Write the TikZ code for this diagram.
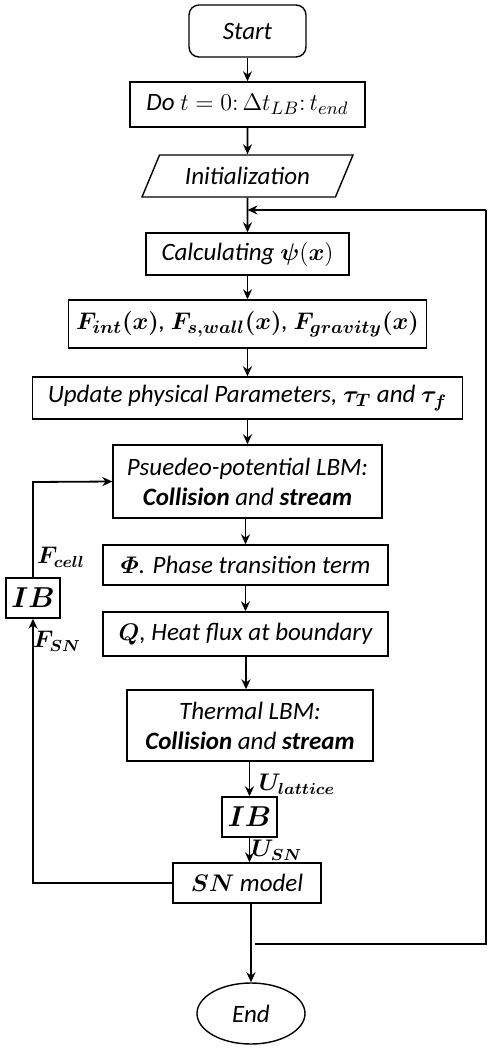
\documentclass[tikz,border=0pt]{standalone}
\usepackage{fontspec}
\setmainfont{Carlito}
\usepackage{amsmath,bm}
\usetikzlibrary{arrows.meta,shapes.geometric}

\begin{document}
\begin{tikzpicture}[x=0.5pt,y=-0.5pt,
		khoi/.style={draw,line width=0.7pt,inner sep=0pt,align=center,
			font=\fontsize{12.5}{15}\selectfont\itshape},
		mui/.style={-{Stealth[length=5pt,width=4.5pt]},line width=0.9pt},
		day/.style={line width=0.9pt},
		nhan/.style={inner sep=0pt,font=\fontsize{12}{14}\selectfont}]
	\useasboundingbox (0,0) rectangle (494,1050);
	\def\xc{247.5}%Truc giua
	\def\xr{486}%Vong phai
	\def\xl{33}%Vong trai
	% cac khoi chinh
	\node[khoi,rounded corners=5pt,minimum width=58.5pt,minimum height=26pt] (start) at (\xc,31) {Start};
	\node[khoi,minimum width=117.5pt,minimum height=22.5pt] (do) at (\xc,104.5) {Do $t=0{:}\,\Delta t_{LB}{:}\,t_{end}$};
	\node[khoi,trapezium,trapezium left angle=45,trapezium right angle=135,trapezium stretches body,
		minimum width=105.5pt,minimum height=21pt] (init) at (\xc,176) {Initialization};
	\node[khoi,minimum width=101.5pt,minimum height=21pt] (calc) at (\xc,254) {Calculating $\bm{\psi}(\bm{x})$};
	\node[khoi,minimum width=179pt,minimum height=24pt] (force) at (\xc,324)
		{$\bm{F_{int}(x)}$, $\bm{F_{s,wall}(x)}$, $\bm{F_{gravity}(x)}$};
	\node[khoi,minimum width=215pt,minimum height=21pt] (update) at (\xc,398)
		{Update physical Parameters, $\bm{\tau_T}$ and $\bm{\tau_f}$};
	\node[khoi,minimum width=134.5pt,minimum height=36.5pt] (pp) at (\xc,481.5)
		{Psuedeo-potential LBM:\\{\bfseries Collision} and {\bfseries stream}};
	\node[khoi,minimum width=142.5pt,minimum height=20pt] (phi) at (245.5,565)
		{$\bm{\varPhi}$. Phase transition term};
	\node[khoi,minimum width=142.5pt,minimum height=22pt] (q) at (245.5,634)
		{$\bm{Q}$, Heat flux at boundary};
	\node[khoi,minimum width=123pt,minimum height=35.5pt] (thermal) at (250,725.5)
		{Thermal LBM:\\{\bfseries Collision} and {\bfseries stream}};
	\node[khoi,minimum width=27.5pt,minimum height=20pt,font=\fontsize{14}{16}\selectfont] (ib) at (249.5,817) {$\bm{IB}$};
	\node[khoi,minimum width=74pt,minimum height=20pt] (sn) at (247,883) {$\bm{SN}$ model};
	\node[khoi,ellipse,minimum width=54pt,minimum height=30.5pt] (end) at (251,1013.5) {End};
	\node[khoi,minimum width=27pt,minimum height=20pt,font=\fontsize{14}{16}\selectfont] (ibl) at (\xl,598) {$\bm{IB}$};
	% mui ten doc
	\draw[mui] (start) -- (do);
	\draw[mui] (do) -- (init);
	\draw[mui] (init) -- (calc);
	\draw[mui] (calc) -- (force);
	\draw[mui] (force) -- (update);
	\draw[mui] (update) -- (pp);
	\draw[mui] (pp.south -| phi.north) -- (phi);
	\draw[mui] (phi) -- (q);
	\draw[mui] (q.south -| 246,0) -- (246,0 |- thermal.north);
	\draw[mui] (thermal.south -| ib.north) -- (ib);
	\draw[mui] (ib) -- (ib |- sn.north);
	\draw[mui] (sn.south -| end.north) -- (end);
	% vong lap
	\coordinate (re) at (\xr,210);
	\coordinate (rs) at (255,944);
	\draw[day] (rs) -- (rs -| re) -- (re);
	\draw[mui] (re) -- (re -| init.south);
	\draw[mui] (sn.west) -| (ibl.south);
	\coordinate (lt) at (\xl,482);
	\draw[mui] (ibl.north) -- (lt) -- (pp.west);
	% nhan
	\node[nhan] (fcell) at (61,557) {$\bm{F_{cell}}$};
	\node[nhan] (fsn) at (57,641) {$\bm{F_{SN}}$};
	\node[nhan] (ulat) at (297,784) {$\bm{U_{lattice}}$};
	\node[nhan] (usn) at (277,850) {$\bm{U_{SN}}$};
\end{tikzpicture}
\end{document}
